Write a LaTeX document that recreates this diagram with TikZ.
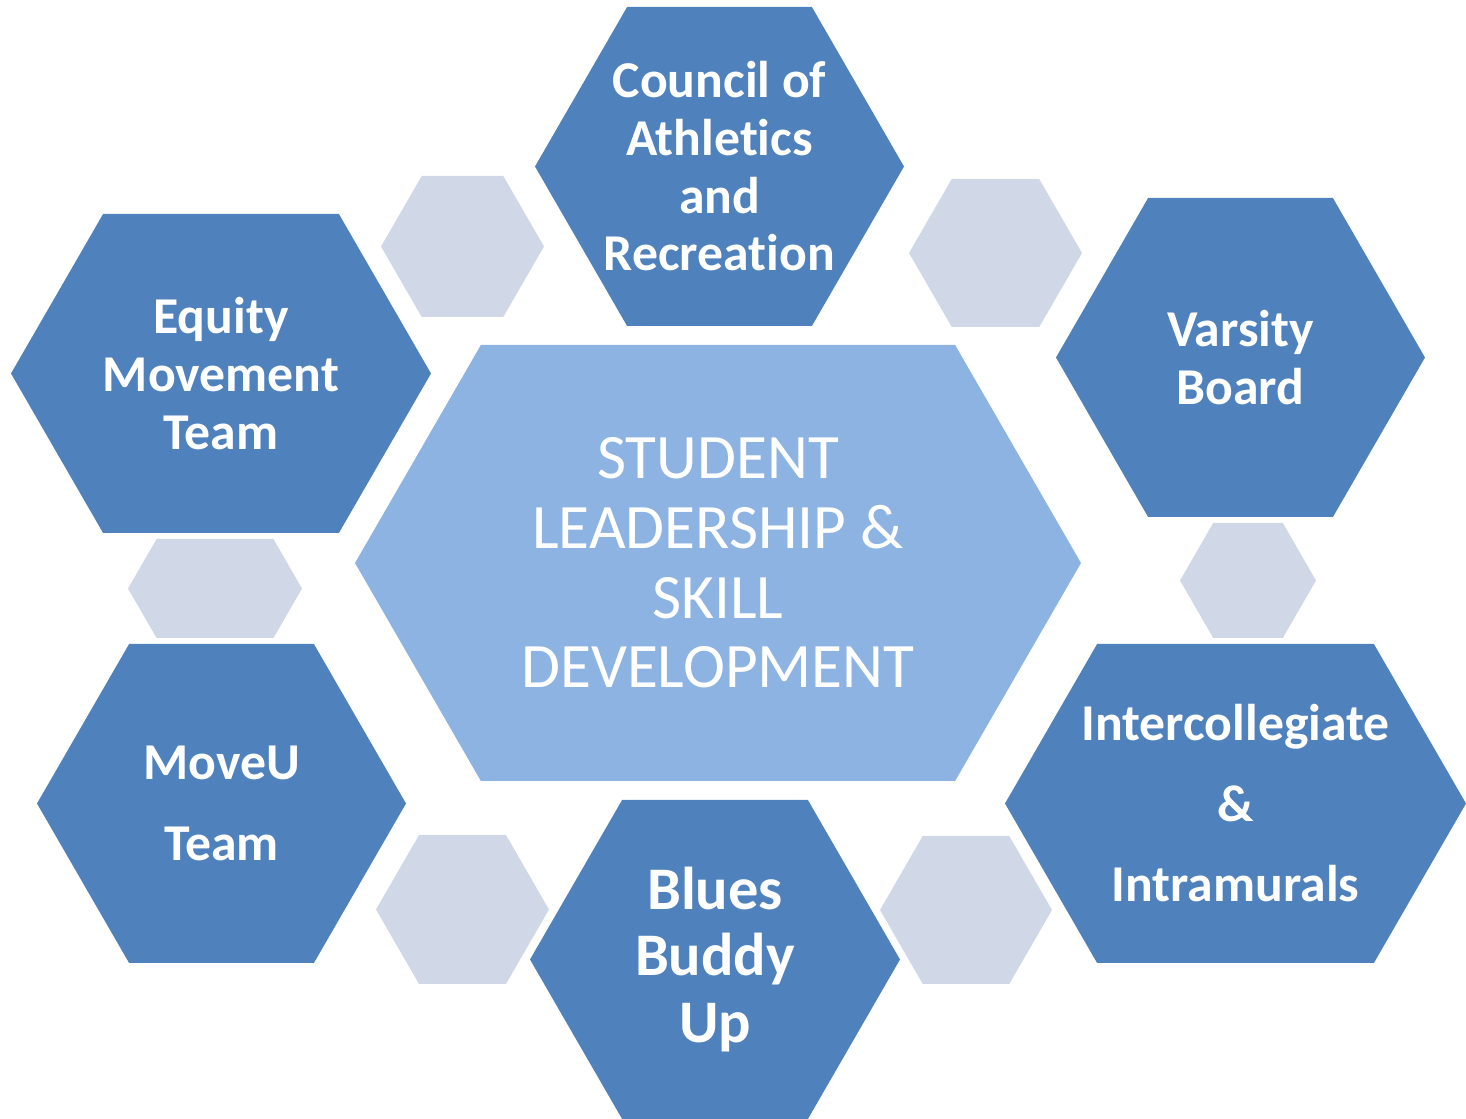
\documentclass[tikz,border=0pt]{standalone}
\usepackage{fontspec}
\setmainfont{Carlito}[Ligatures=NoCommon]
\usepackage{xcolor}
\usepackage{tikz}
\definecolor{cellBlue}{RGB}{79,129,189}
\definecolor{coreBlue}{RGB}{141,179,226}
\definecolor{spacerGray}{RGB}{208,216,232}

% flat-topped hexagon: style, name, centre x, centre y, half width, half height
\newcommand{\hexcell}[6]{%
  \fill[#1] ({#3-#5},#4) -- ({#3-#5+0.5774*#6},{#4-#6}) -- ({#3+#5-0.5774*#6},{#4-#6})
    -- ({#3+#5},#4) -- ({#3+#5-0.5774*#6},{#4+#6}) -- ({#3-#5+0.5774*#6},{#4+#6}) -- cycle;
  \coordinate (#2) at (#3,#4);
}

\tikzset{
  cell/.style={fill=cellBlue},
  core/.style={fill=coreBlue},
  spacer/.style={fill=spacerGray},
  cellText/.style={
    text=white,
    align=center,
    inner sep=0pt,
    font={\fontsize{14.7pt}{16.4pt}\selectfont\bfseries}
  },
  wideText/.style={cellText, font={\fontsize{14.7pt}{22.9pt}\selectfont\bfseries}},
  bigText/.style={cellText, font={\fontsize{17.2pt}{19pt}\selectfont\bfseries}},
  coreText/.style={cellText, font={\fontsize{18pt}{19.8pt}\selectfont}}
}

\begin{document}
\begin{tikzpicture}[x=0.01cm, y=-0.01cm]
  \useasboundingbox (0,0) rectangle (1466,1119);

  % small spacer hexagons between the outer cells
  \hexcell{spacer}{gapA}{462.5}{246.5}{81.5}{70.5}
  \hexcell{spacer}{gapB}{995.5}{253}{86.5}{74}
  \hexcell{spacer}{gapC}{1248}{580.5}{68}{57.5}
  \hexcell{spacer}{gapD}{966}{910}{86}{74}
  \hexcell{spacer}{gapE}{462.5}{909.5}{86.5}{74.5}
  \hexcell{spacer}{gapF}{215}{588.5}{87}{49.5}

  % outer cells
  \hexcell{cell}{hCouncil}{719.5}{166.5}{184.5}{159.5}
  \hexcell{cell}{hVarsity}{1240.5}{357.5}{184.5}{159.5}
  \hexcell{cell}{hInter}{1235.5}{803.5}{230.5}{159.5}
  \hexcell{cell}{hBlues}{715}{959.5}{185}{159.5}
  \hexcell{cell}{hMoveU}{221.5}{803.5}{184.5}{159.5}
  \hexcell{cell}{hEquity}{221}{373.5}{210}{159.5}

  % centre cell
  \hexcell{core}{hCore}{718}{563}{363}{218}

  \node[cellText] (council) at (hCouncil) {Council of\\Athletics\\and\\Recreation};
  \node[cellText] (varsity) at (hVarsity) {Varsity\\Board};
  \node[wideText] (inter) at (hInter) {Intercollegiate\\\&\\Intramurals};
  \node[bigText] (blues) at (hBlues) {Blues\\Buddy\\Up};
  \node[wideText] (moveu) at (hMoveU) {MoveU\\Team};
  \node[cellText] (equity) at (hEquity) {Equity\\Movement\\Team};
  \node[coreText] (core) at (hCore) {STUDENT\\LEADERSHIP \&\\SKILL\\DEVELOPMENT};
\end{tikzpicture}
\end{document}
